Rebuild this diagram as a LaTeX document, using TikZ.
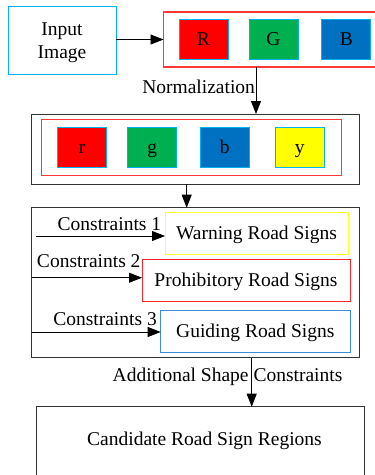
\documentclass[tikz,border=0pt]{standalone}
\usepackage{fontspec}
\setmainfont{Liberation Serif}
\usetikzlibrary{arrows.meta}
\definecolor{cyanline}{HTML}{00B0F0}
\definecolor{redline}{HTML}{FF3838}
\definecolor{chred}{HTML}{FF0000}
\definecolor{chgreen}{HTML}{00B050}
\definecolor{chblue}{HTML}{0070C0}
\definecolor{chyellow}{HTML}{FFFF00}
\definecolor{guideblue}{HTML}{3C8DD6}
\definecolor{warnyellow}{HTML}{FFFF30}
\begin{document}
\begin{tikzpicture}[x=1pt,y=-1pt,
  font=\fontsize{19.5}{23.3}\selectfont,
  every node/.style={inner sep=0pt, outer sep=0pt},
  frame/.style={draw=black!80, line width=0.8pt},
  chan/.style={draw=cyanline, line width=0.8pt, fill=#1, minimum width=49pt, minimum height=39.5pt, text height=13pt, text depth=1pt},
  signbox/.style={draw=#1, line width=0.8pt, minimum height=42pt, text height=13pt, text depth=1pt},
  redbox/.style={draw=redline, line width=1.1pt},
  lbl/.style={anchor=base west},
  flow/.style={-{Triangle[length=13pt,width=10pt]}, line width=0.8pt}]
\useasboundingbox (0,0) rectangle (375,475);
\fill[white] (0,0) rectangle (375,475);

% input and RGB channels
\node[draw=cyanline, line width=0.8pt, minimum width=108pt, minimum height=67.3pt] (input) at (62,40.3) {};
\node[anchor=base] (inl1) at (62,35) {Input};
\node[anchor=base] (inl2) at (62,58.3) {Image};
\node[redbox, minimum width=214pt, minimum height=55pt] (rgb) at (270.5,39.5) {};
\node[chan=chred] (R) at (203.5,39.2) {R};
\node[chan=chgreen] (G) at (273.5,39.2) {G};
\node[chan=chblue] (B) at (346.3,39.2) {B};
\draw[flow] (input.east |- 0,39.5) -- (rgb.west |- 0,39.5);

% normalized channels: red group box inside a black frame
\node[frame, minimum width=327.7pt, minimum height=70pt] (norm) at (195.5,149) {};
\node[redbox, minimum width=300pt, minimum height=56pt] (group) at (191.5,147.5) {};
\node[chan=chred] (cr) at (82.2,147.5) {r};
\node[chan=chgreen] (cg) at (152.3,147.5) {g};
\node[chan=chblue] (cb) at (224.8,147.5) {b};
\node[chan=chyellow] (cy) at (299.8,147.5) {y};
\coordinate (nx) at (256,0);
\draw[flow] (rgb.south -| nx) -- (norm.north -| nx);
\node[lbl] (normlbl) at (142.3,93.3) {Normalization};

% constraint stage
\node[frame, minimum width=327.7pt, minimum height=150pt] (cons) at (195.5,282.7) {};
\coordinate (cx) at (186.7,0);
\draw[flow] (norm.south -| cx) -- (cons.north -| cx);
\node[signbox=warnyellow, minimum width=183pt] (warn) at (256.5,233.3) {Warning Road Signs};
\node[signbox=chred!85, minimum width=208pt] (proh) at (246,280.3) {Prohibitory Road Signs};
\node[signbox=guideblue, minimum width=189.3pt] (guide) at (255.3,331.5) {Guiding Road Signs};
\coordinate (c1) at (36,236);
\draw[flow] (c1) -- (warn.west |- c1);
\node[lbl] (l1) at (57.7,230) {Constraints 1};
\draw[flow] (cons.west |- 0,277.7) -- (proh.west |- 0,277.7);
\node[lbl] (l2) at (37,267.7) {Constraints 2};
\draw[flow] (cons.west |- 0,332) -- (guide.west |- 0,332);
\node[lbl] (l3) at (53.3,325.7) {Constraints 3};

% result
\node[frame, minimum width=328pt, minimum height=72pt] (result) at (200,442.7) {};
\node[anchor=base] (restext) at (204.5,445) {Candidate Road Sign Regions};
\coordinate (rx) at (251.7,0);
\draw[flow] (cons.south -| rx) -- (result.north -| rx);
\node[lbl] (shape) at (112.7,381.7) {Additional Shape Constraints};
\end{tikzpicture}
\end{document}
